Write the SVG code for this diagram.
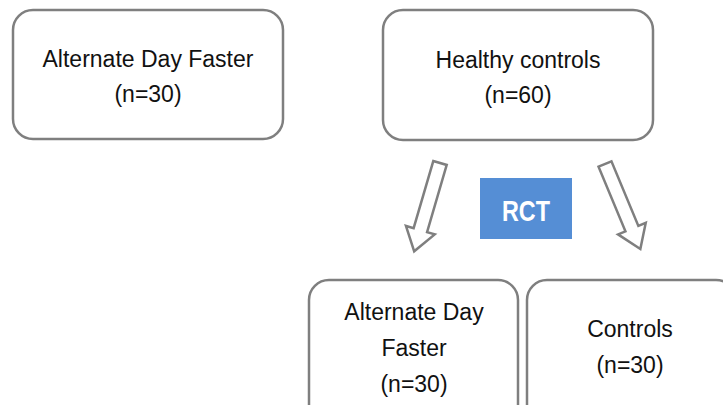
<svg xmlns="http://www.w3.org/2000/svg" width="723" height="405" viewBox="0 0 723 405">
  <defs>
    <style>
      .box { fill: #ffffff; stroke: #7f7f7f; stroke-width: 2.5; }
      .lbl { font-family: "Liberation Sans", Arial, sans-serif; font-size: 23px; fill: #111111; text-anchor: middle; }
      .rct { fill: #558ed5; }
      .rct-t { font-family: "Liberation Sans", Arial, sans-serif; font-size: 30px; font-weight: bold; fill: #ffffff; text-anchor: middle; }
      .blk { fill: #ffffff; stroke: #7f7f7f; stroke-width: 2.5; stroke-linejoin: miter; }
    </style>
    <!-- hollow block arrow pointing down (+y), length 92 -->
    <polygon id="blockArrow" points="-7,0 7,0 7,70 15,70 0,92 -15,70 -7,70"/>
  </defs>
  <rect width="723" height="405" fill="#ffffff"/>

  <g id="alternate-day-faster">
    <rect class="box" x="13" y="10" width="270" height="129" rx="20" ry="20"/>
    <text class="lbl" x="148" y="67">Alternate Day Faster</text>
    <text class="lbl" x="148" y="102">(n=30)</text>
  </g>

  <g id="healthy-controls">
    <rect class="box" x="383" y="10" width="270" height="130" rx="20" ry="20"/>
    <text class="lbl" x="518" y="68">Healthy controls</text>
    <text class="lbl" x="518" y="103">(n=60)</text>
  </g>

  <g id="rct">
    <rect class="rct" x="480" y="178" width="92" height="61"/>
    <text class="rct-t" x="526" y="221" textLength="48" lengthAdjust="spacingAndGlyphs">RCT</text>
  </g>

  <g id="connectors">
    <use href="#blockArrow" class="blk" transform="translate(440,163) rotate(16.3)"/>
    <use href="#blockArrow" class="blk" transform="translate(605,164) rotate(-22.6)"/>
  </g>

  <g id="adf-arm">
    <rect class="box" x="309" y="280" width="209" height="150" rx="20" ry="20"/>
    <text class="lbl" x="414" y="320">Alternate Day</text>
    <text class="lbl" x="414" y="356">Faster</text>
    <text class="lbl" x="414" y="392">(n=30)</text>
  </g>

  <g id="controls-arm">
    <rect class="box" x="527" y="280" width="209" height="150" rx="20" ry="20"/>
    <text class="lbl" x="630" y="337">Controls</text>
    <text class="lbl" x="630" y="373">(n=30)</text>
  </g>
</svg>
